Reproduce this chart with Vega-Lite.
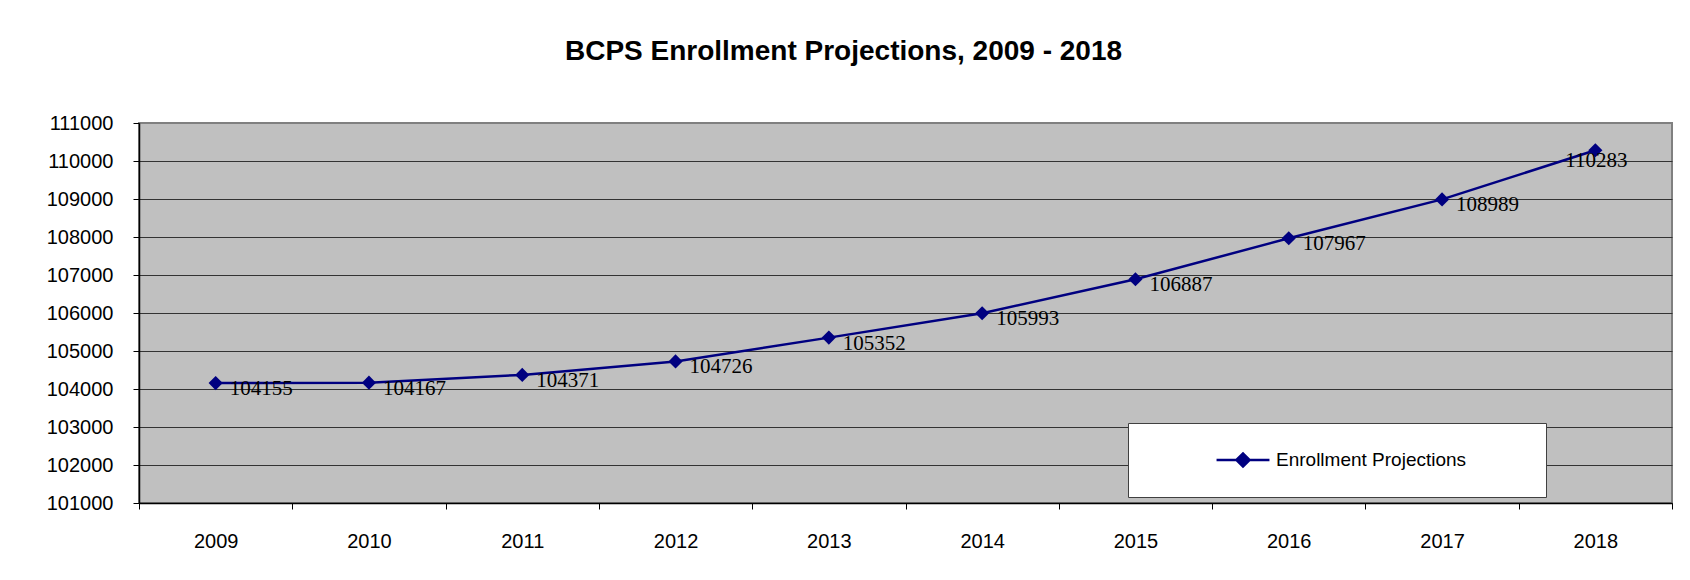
{
  "$schema": "https://vega.github.io/schema/vega-lite/v6.json",
  "width": 1533,
  "height": 380,
  "autosize": {"type": "none"},
  "padding": {"left": 139, "top": 123, "right": 18, "bottom": 77},
  "background": "white",
  "title": {
    "text": "BCPS Enrollment Projections, 2009 - 2018",
    "font": "Liberation Sans",
    "fontSize": 28,
    "fontWeight": "bold",
    "color": "black",
    "anchor": "middle",
    "dx": -62,
    "offset": 47
  },
  "data": {
    "values": [
      {"year": "2009", "enrollment": 104155, "series": "Enrollment Projections"},
      {"year": "2010", "enrollment": 104167, "series": "Enrollment Projections"},
      {"year": "2011", "enrollment": 104371, "series": "Enrollment Projections"},
      {"year": "2012", "enrollment": 104726, "series": "Enrollment Projections"},
      {"year": "2013", "enrollment": 105352, "series": "Enrollment Projections"},
      {"year": "2014", "enrollment": 105993, "series": "Enrollment Projections"},
      {"year": "2015", "enrollment": 106887, "series": "Enrollment Projections"},
      {"year": "2016", "enrollment": 107967, "series": "Enrollment Projections"},
      {"year": "2017", "enrollment": 108989, "series": "Enrollment Projections"},
      {"year": "2018", "enrollment": 110283, "series": "Enrollment Projections"}
    ]
  },
  "config": {
    "view": {"fill": "#C0C0C0", "stroke": "#808080", "strokeWidth": 2},
    "axis": {
      "labelFont": "Liberation Sans",
      "labelFontSize": 20,
      "labelColor": "black",
      "tickColor": "black",
      "tickSize": 6,
      "domainColor": "black",
      "domainWidth": 1.5,
      "title": null
    }
  },
  "encoding": {
    "x": {
      "field": "year",
      "type": "ordinal",
      "bandPosition": 0.5,
      "scale": {"type": "band", "paddingInner": 0, "paddingOuter": 0},
      "axis": {"tickBand": "extent", "labelAngle": 0, "labelPadding": 22, "grid": false}
    },
    "y": {
      "field": "enrollment",
      "type": "quantitative",
      "scale": {"domain": [101000, 111000], "nice": false, "zero": false},
      "axis": {
        "values": [101000, 102000, 103000, 104000, 105000, 106000, 107000, 108000, 109000, 110000, 111000],
        "format": "d",
        "labelPadding": 20,
        "grid": true,
        "gridWidth": 1,
        "gridColor": {"condition": {"test": "datum.value === 111000", "value": "#808080"}, "value": "#333333"}
      }
    }
  },
  "layer": [
    {
      "mark": {"type": "line", "strokeWidth": 2.5, "point": {"shape": "diamond", "size": 200, "filled": true}},
      "encoding": {
        "color": {
          "field": "series",
          "type": "nominal",
          "scale": {"range": ["#000080"]},
          "legend": {
            "title": "\u00a0",
            "titleOrient": "right",
            "titlePadding": 53,
            "titleFontSize": 19,
            "titleFont": "Liberation Sans",
            "orient": "none",
            "legendX": 989,
            "legendY": 300,
            "padding": 27,
            "clipHeight": 20,
            "fillColor": "white",
            "strokeColor": "#404040",
            "symbolType": "M-0.671,0H-0.381M-0.562,0L-0.526,-0.0356L-0.49,0L-0.526,0.0356Z",
            "symbolSize": 133225,
            "symbolStrokeWidth": 2.5,
            "symbolFillColor": "#000080",
            "symbolStrokeColor": "#000080",
            "labelFont": "Liberation Sans",
            "labelFontSize": 19,
            "labelColor": "black",
            "labelOffset": -247,
            "labelLimit": 500,
            "encode": {
              "symbols": {
                "update": {
                  "fill": {"value": "#000080"},
                  "stroke": {"value": "#000080"},
                  "strokeWidth": {"value": 2.5},
                  "opacity": {"value": 1}
                }
              }
            }
          }
        }
      }
    },
    {
      "transform": [{"filter": "datum.year != '2018'"}],
      "mark": {"type": "text", "font": "Liberation Serif", "fontSize": 21, "align": "left", "baseline": "middle", "dx": 14, "dy": 6, "color": "black"},
      "encoding": {"text": {"field": "enrollment", "type": "quantitative", "format": "d"}}
    },
    {
      "transform": [{"filter": "datum.year == '2018'"}],
      "mark": {"type": "text", "font": "Liberation Serif", "fontSize": 21, "align": "left", "baseline": "middle", "dx": -30, "dy": 11, "color": "black"},
      "encoding": {"text": {"field": "enrollment", "type": "quantitative", "format": "d"}}
    }
  ]
}
